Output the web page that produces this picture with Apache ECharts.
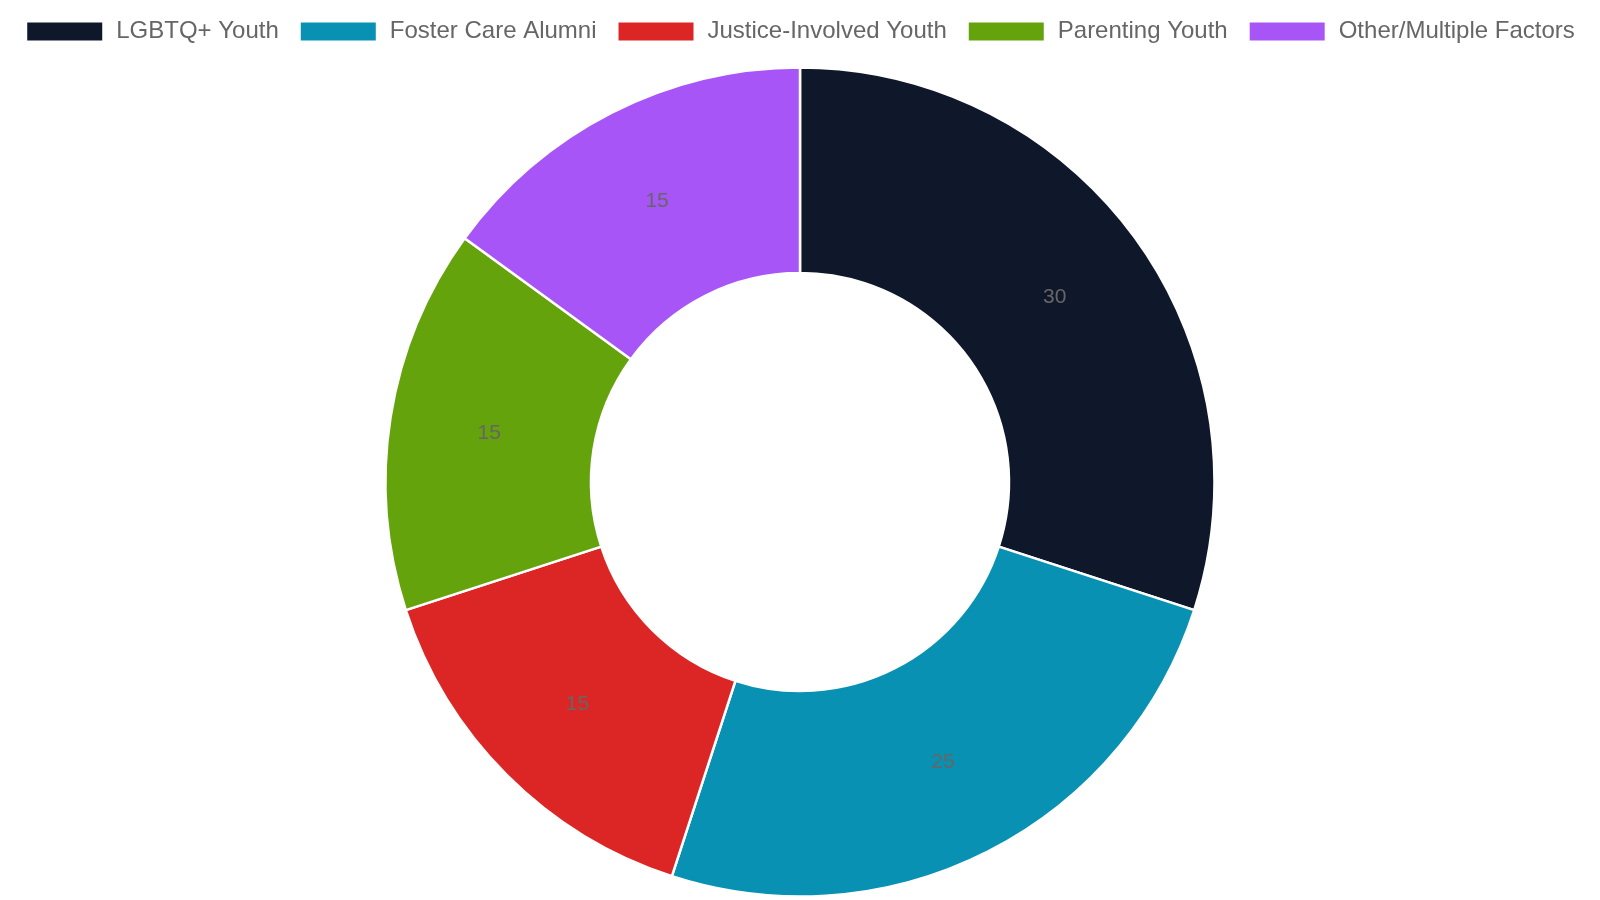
<!DOCTYPE html>
<html>
<head>
<meta charset="utf-8">
<script src="https://cdn.jsdelivr.net/npm/echarts@6/dist/echarts.min.js"></script>
<style>
html,body{margin:0;padding:0;background:#fff;}
#chart{width:1600px;height:900px;}
</style>
</head>
<body>
<div id="chart"></div>
<script>
const categories = ['LGBTQ+ Youth', 'Foster Care Alumni', 'Justice-Involved Youth', 'Parenting Youth', 'Other/Multiple Factors'];
const values = [30, 25, 15, 15, 15];
const colors = ['#0f172a', '#0891b2', '#dc2626', '#65a30d', '#a855f7'];

const chart = echarts.init(document.getElementById('chart'), null, {renderer: 'canvas'});
chart.setOption({
  animation: false,
  backgroundColor: '#ffffff',
  color: colors,
  legend: {
    top: 14.5,
    left: 'center',
    itemWidth: 77,
    itemHeight: 20,
    itemGap: 20,
    icon: 'rect',
    data: categories,
    textStyle: {
      fontFamily: '"Liberation Sans", Arial, sans-serif',
      fontSize: 24,
      color: '#666666',
      lineHeight: 20,
      padding: [0, 0, 0, 8]
    }
  },
  series: [{
    type: 'pie',
    center: [800, 482],
    radius: [209, 414.5],
    startAngle: 90,
    clockwise: true,
    itemStyle: {borderColor: '#ffffff', borderWidth: 2.5},
    label: {
      show: true,
      position: 'inside',
      formatter: '{c}',
      color: '#666666',
      fontSize: 21,
      fontFamily: '"Liberation Sans", Arial, sans-serif'
    },
    labelLine: {show: false},
    emphasis: {disabled: true},
    data: categories.map((c, i) => ({name: c, value: values[i]}))
  }]
});
</script>
</body>
</html>
